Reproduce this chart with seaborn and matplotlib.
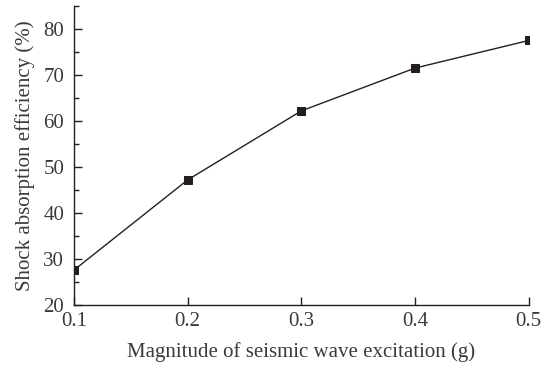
import matplotlib
matplotlib.use("Agg")
import matplotlib.pyplot as plt
from matplotlib.ticker import MultipleLocator
import seaborn as sns
import pandas as pd

magnitude = [0.1, 0.2, 0.3, 0.4, 0.5]
efficiency = [27.6, 47.2, 62.2, 71.5, 77.5]

sns.set_theme(style="ticks")
plt.rcParams["font.family"] = ["Liberation Serif", "DejaVu Serif"]

df = pd.DataFrame({"magnitude": magnitude, "efficiency": efficiency})

fig = plt.figure(figsize=(5.44, 3.72), dpi=100)
ax = fig.add_axes([0.136, 0.180, 0.836, 0.804])

sns.lineplot(data=df, x="magnitude", y="efficiency", ax=ax,
             color="#231f20", linewidth=1.0, marker="s", markersize=6,
             markeredgecolor="#231f20", markerfacecolor="#231f20")

ax.set_xlim(0.1, 0.5)
ax.set_ylim(20, 85)
ax.xaxis.set_major_locator(MultipleLocator(0.1))
ax.yaxis.set_major_locator(MultipleLocator(10))
ax.yaxis.set_minor_locator(MultipleLocator(5))

ax.tick_params(axis="both", which="major", direction="in", length=6, width=1,
               labelsize=15, colors="#231f20", labelcolor="#3a3a3a", pad=4)
ax.tick_params(axis="y", which="minor", direction="in", length=3.5, width=1,
               colors="#231f20")
ax.tick_params(axis="x", pad=5)
ax.tick_params(axis="y", pad=7)

sns.despine(ax=ax)
for side in ("left", "bottom"):
    ax.spines[side].set_color("#231f20")
    ax.spines[side].set_linewidth(1.0)

ax.set_xlabel("Magnitude of seismic wave excitation (g)", fontsize=15,
              color="#3a3a3a", labelpad=8)
ax.set_ylabel("Shock absorption efficiency (%)", fontsize=15,
              color="#3a3a3a", labelpad=6)

fig.savefig("out.png", dpi=100)
